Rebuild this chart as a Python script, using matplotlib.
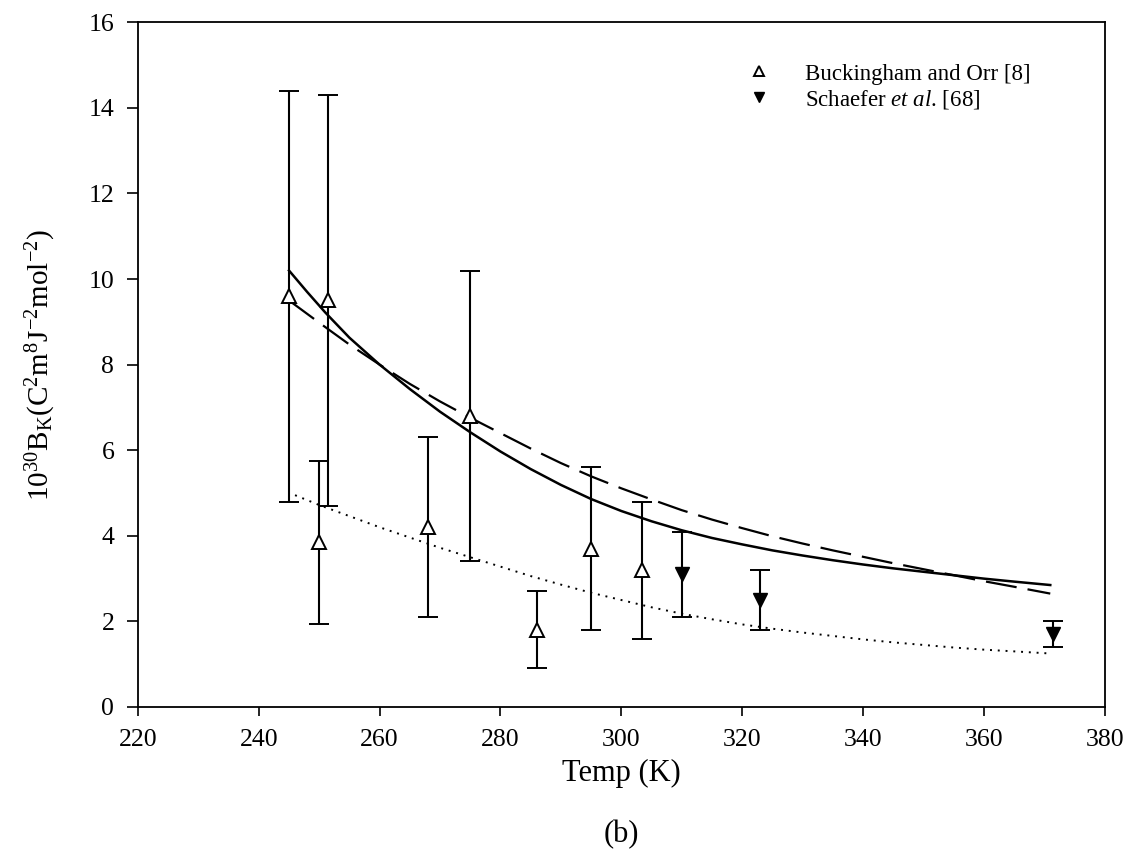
import matplotlib.pyplot as plt
import numpy as np

plt.rcParams['font.family'] = ['Liberation Serif', 'DejaVu Serif']
plt.rcParams['mathtext.fontset'] = 'custom'
plt.rcParams['mathtext.rm'] = 'Liberation Serif'
plt.rcParams['mathtext.it'] = 'Liberation Serif:italic'

# Buckingham and Orr [8]
bo_T = [245, 250, 251.5, 268, 275, 286, 295, 303.5]
bo_B = [9.6, 3.85, 9.5, 4.2, 6.8, 1.8, 3.7, 3.2]
bo_err = [4.8, 1.9, 4.8, 2.1, 3.4, 0.9, 1.9, 1.6]

# Schaefer et al. [68]
sc_T = [310, 323, 371.5]
sc_B = [3.1, 2.5, 1.7]
sc_err = [1.0, 0.7, 0.3]

# calculated curves
solid_T = [245, 248, 251, 255, 260, 265, 270, 275, 280, 285, 290, 295, 300, 305,
           310, 315, 320, 325, 330, 335, 340, 345, 350, 355, 360, 365, 371]
solid_B = [10.2, 9.7, 9.22, 8.63, 8.0, 7.43, 6.9, 6.42, 5.97, 5.56, 5.19, 4.86, 4.58, 4.34,
           4.13, 3.95, 3.8, 3.66, 3.54, 3.43, 3.33, 3.24, 3.16, 3.08, 3.0, 2.93, 2.85]
dash_T = [245, 250, 255, 260, 265, 270, 275, 280, 285, 290, 295, 300, 305,
          310, 315, 320, 325, 330, 335, 340, 345, 350, 355, 360, 365, 371]
dash_B = [9.5, 8.98, 8.47, 8.0, 7.55, 7.14, 6.76, 6.4, 6.04, 5.7, 5.39, 5.11, 4.85,
          4.6, 4.38, 4.18, 3.99, 3.82, 3.66, 3.51, 3.36, 3.22, 3.08, 2.94, 2.81, 2.65]
dot_T = [246, 250, 255, 260, 265, 270, 275, 280, 285, 290, 295, 300, 305, 310,
         315, 320, 325, 330, 335, 340, 345, 350, 355, 360, 365, 371]
dot_B = [4.95, 4.72, 4.46, 4.2, 3.96, 3.72, 3.5, 3.28, 3.06, 2.86, 2.67, 2.5, 2.33, 2.18,
         2.05, 1.93, 1.83, 1.74, 1.66, 1.58, 1.51, 1.45, 1.39, 1.34, 1.3, 1.25]

fig = plt.figure(figsize=(11.28, 8.58), dpi=100)
ax = fig.add_axes([0.1223, 0.176, 0.857, 0.798])

ax.plot(solid_T, solid_B, '-', color='black', lw=1.8)
ax.plot(dash_T, dash_B, '--', color='black', lw=1.6, dashes=(14, 5))
ax.plot(dot_T, dot_B, ':', color='black', lw=1.4, dashes=(1, 3))

ax.errorbar(bo_T, bo_B, yerr=bo_err, fmt='^', mfc='white', mec='black', ms=9.5,
            mew=1.4, ecolor='black', elinewidth=1.5, capsize=7, capthick=1.4,
            label='Buckingham and Orr [8]')
ax.errorbar(sc_T, sc_B, yerr=sc_err, fmt='v', mfc='black', mec='black', ms=9.5,
            ecolor='black', elinewidth=1.5, capsize=7, capthick=1.4,
            label='Schaefer $\\it{et\\ al}$. [68]')

ax.set_xlim(220, 380)
ax.set_ylim(0, 16)
ax.set_xticks(np.arange(220, 381, 20))
ax.set_yticks(np.arange(0, 17, 2))
ax.tick_params(direction='out', width=1.2, labelsize=18.5, top=False, right=False)
ax.tick_params(axis='x', length=6.5, pad=9)
ax.tick_params(axis='y', length=8, pad=9)
for s in ax.spines.values():
    s.set_linewidth(1.3)

ax.set_ylabel(r'$10^{30}$B$_{\rm K}$(C$^2$m$^8$J$^{-2}$mol$^{-2}$)', fontsize=21)
ax.yaxis.set_label_coords(-0.083, 0.5)
fig.text(0.551, 0.099, 'Temp (K)', fontsize=22, ha='center', va='center')
fig.text(0.551, 0.027, '(b)', fontsize=22, ha='center', va='center')

handles, labels = ax.get_legend_handles_labels()
leg = ax.legend([h[0] for h in handles], labels, loc='upper right',
                bbox_to_anchor=(0.945, 0.97), frameon=False, fontsize=16.5,
                handletextpad=1.0, labelspacing=0.15, markerscale=0.75)

fig.savefig('out.png', dpi=100)
